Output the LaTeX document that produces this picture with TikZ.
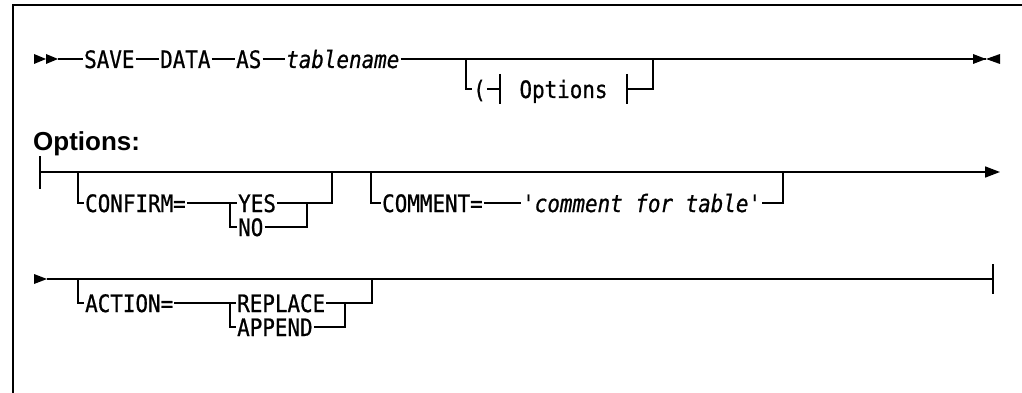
\documentclass[tikz,border=0pt]{standalone}
\usepackage{fontspec}
\setmainfont{Liberation Sans}
\newfontfamily\synfont[Ligatures=TeXOff,FakeStretch=0.87,FakeBold=0.8]{DejaVu Sans Mono}
\usetikzlibrary{arrows.meta}

\begin{document}
\begin{tikzpicture}[x=1pt,y=-1pt,
  kw/.style={font=\synfont\fontsize{24}{24}\selectfont,inner xsep=1pt,inner ysep=0pt,text height=18pt,text depth=0pt,anchor=west},
  var/.style={kw,font=\synfont\itshape\fontsize{24}{24}\selectfont},
  rail/.style={line width=1.6pt},
  railend/.style={rail,-{Triangle[length=15pt,width=11pt]}},
  frame/.style={line width=2pt},
  head/.style={font=\bfseries\fontsize{26}{26}\selectfont,inner sep=0pt,anchor=base west}]
\useasboundingbox (0,0) rectangle (1022,393);

% ================= FRAME =================
\draw[frame] (13,393) -- (13,5) -- (1022,5);

% ================= MAIN STATEMENT =================
\coordinate (r1go) at (58,59);
\fill (r1go) ++(-24,-5) -- ++(12,5) -- ++(-12,5) -- cycle;
\fill (r1go) ++(-12,-5) -- ++(12,5) -- ++(-12,5) -- cycle;
\node[kw] (save) at (83,59) {SAVE};
\node[kw] (data) at (159,59) {DATA};
\node[kw] (as) at (235,59) {AS};
\node[var] (tname) at (285,59) {tablename};
\coordinate (r1end) at (986,59);
\fill (r1end) ++(-13,-5) -- ++(13,5) -- ++(-13,5) -- cycle;
\fill (r1end) ++(14,-5) -- ++(-14,5) -- ++(14,5) -- cycle;

\draw[rail] (r1go) -- (save);
\draw[rail] (save) -- (data);
\draw[rail] (data) -- (as);
\draw[rail] (as) -- (tname);
\draw[rail] (tname) -- (r1end);

% optional ( Options branch
\coordinate (b1) at (466,59);
\coordinate (b2) at (653,59);
\node[kw] (paren) at (472,89) {(};
\node[kw,anchor=center,minimum width=127pt] (optref) at (563.5,89) {Options};
\draw[rail] (b1) |- (paren);
\draw[rail] (paren) -- (optref.west);
\draw[rail] (optref.west) ++(0,-15) -- ++(0,30);
\draw[rail] (optref.east) ++(0,-15) -- ++(0,30);
\draw[rail] (optref.east) -| (b2);

% ================= OPTIONS FRAGMENT =================
\node[head] (opthead) at (33,150) {Options:};

% row two
\coordinate (r2start) at (40,172);
\coordinate (r2end) at (1000,172);
\draw[rail] (r2start) ++(0,-16) -- ++(0,33);
\draw[railend] (r2start) -- (r2end);

\coordinate (r2a) at (78,172);
\coordinate (f1) at (230,203);
\coordinate (j1) at (307,203);
\coordinate (r2b) at (332,172);
\node[kw] (confirm) at (84,203) {CONFIRM=};
\node[kw] (yes) at (237,203) {YES};
\node[kw] (no) at (237,227) {NO};
\draw[rail] (r2a) |- (confirm);
\draw[rail] (confirm) -- (yes);
\draw[rail] (f1) |- (no);
\draw[rail] (no) -| (j1);
\draw[rail] (yes) -| (r2b);

\coordinate (r2c) at (371,172);
\coordinate (r2d) at (783,172);
\node[kw] (comment) at (381,203) {COMMENT=};
\node[var] (ctext) at (521,203) {'comment for table'};
\draw[rail] (r2c) |- (comment);
\draw[rail] (comment) -- (ctext);
\draw[rail] (ctext) -| (r2d);

% row three
\coordinate (r3start) at (47,279);
\coordinate (r3end) at (993,279);
\fill (r3start) ++(-13,-5) -- ++(13,5) -- ++(-13,5) -- cycle;
\draw[rail] (r3start) -- (r3end);
\draw[rail] (r3end) ++(0,-15) -- ++(0,30);

\coordinate (r3a) at (78,279);
\coordinate (f3) at (230,303);
\coordinate (j3) at (345,303);
\coordinate (r3b) at (372,279);
\node[kw] (action) at (84,303) {ACTION=};
\node[kw] (replace) at (236,303) {REPLACE};
\node[kw] (append) at (236,327) {APPEND};
\draw[rail] (r3a) |- (action);
\draw[rail] (action) -- (replace);
\draw[rail] (f3) |- (append);
\draw[rail] (append) -| (j3);
\draw[rail] (replace) -| (r3b);
\end{tikzpicture}
\end{document}
